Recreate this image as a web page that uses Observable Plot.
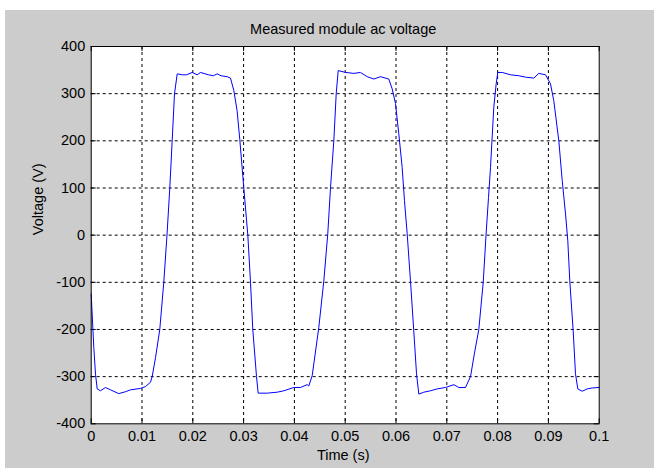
<!DOCTYPE html>
<html>
<head>
<meta charset="utf-8">
<script src="https://cdn.jsdelivr.net/npm/d3@7"></script>
<script src="https://cdn.jsdelivr.net/npm/@observablehq/plot@0.6"></script>
<style>
  html, body { margin: 0; padding: 0; background: #ffffff; }
  #wrap { padding-left: 5px; padding-top: 10px; width: 649px; height: 458px; }
  #wrap svg { display: block; background: #cccccc; }
</style>
</head>
<body>
<div id="wrap"></div>
<script>
const titleText = "Measured module ac voltage";
const xLabel = "Time (s)";
const yLabel = "Voltage (V)";

const xTicks = [0, 0.01, 0.02, 0.03, 0.04, 0.05, 0.06, 0.07, 0.08, 0.09, 0.1];
const xTickLabels = ["0", "0.01", "0.02", "0.03", "0.04", "0.05", "0.06", "0.07", "0.08", "0.09", "0.1"];
const yTicks = [-400, -300, -200, -100, 0, 100, 200, 300, 400];
const yTickLabels = ["-400", "-300", "-200", "-100", "0", "100", "200", "300", "400"];

const time = [
  0, 0.00051, 0.00085, 0.00118, 0.00183, 0.00281, 0.0038, 0.00543, 0.00675, 0.00774,
  0.0097, 0.01069, 0.01167, 0.012, 0.01266, 0.0135, 0.01429, 0.01492, 0.01547, 0.01594,
  0.0164, 0.01693, 0.01791, 0.01876, 0.01988, 0.02085, 0.02152, 0.02308, 0.02406, 0.0248,
  0.02555, 0.02677, 0.02742, 0.02807, 0.02872, 0.02925, 0.03004, 0.03083, 0.03136, 0.03181,
  0.03254, 0.03287, 0.03465, 0.03661, 0.03791, 0.03988, 0.0412, 0.04252, 0.04283, 0.0435,
  0.0448, 0.04579, 0.04657, 0.04711, 0.04776, 0.04823, 0.04862, 0.05006, 0.05169, 0.05301,
  0.05433, 0.05563, 0.05695, 0.05858, 0.05925, 0.0599, 0.06055, 0.06122, 0.06167, 0.0622,
  0.06285, 0.0635, 0.06404, 0.06449, 0.06547, 0.06679, 0.06811, 0.06974, 0.07138, 0.07236,
  0.07368, 0.07467, 0.07545, 0.0763, 0.07717, 0.07772, 0.07821, 0.0786, 0.07925, 0.07972,
  0.08004, 0.08091, 0.08254, 0.08417, 0.08549, 0.08713, 0.08811, 0.08943, 0.09041, 0.09106,
  0.09205, 0.09272, 0.09337, 0.09382, 0.09421, 0.09488, 0.09533, 0.09579, 0.09665, 0.09764,
  0.09862, 0.1
];
const voltage = [
  -125, -238, -295, -326, -330, -323, -328, -336, -332, -328,
  -325, -321, -312, -300, -260, -200, -100, 0, 100, 200,
  300, 342, 340, 340, 345, 340, 345, 340, 338, 342,
  338, 336, 333, 307, 264, 203, 100, 0, -100, -200,
  -300, -335, -335, -333, -330, -323, -323, -317, -320, -298,
  -196, -97, 3, 101, 200, 300, 349, 345, 343, 345,
  336, 331, 336, 331, 310, 279, 215, 143, 73, 3,
  -97, -203, -294, -337, -333, -330, -326, -323, -317, -323,
  -323, -300, -250, -200, -100, 0, 80, 143, 271, 321,
  345, 345, 340, 338, 335, 333, 343, 340, 321, 285,
  200, 116, 45, -12, -97, -203, -294, -326, -331, -326,
  -324, -323
];

const data = time.map((t, i) => ({t, v: voltage[i]}));

const W = 649, H = 458;
const mL = 85.7, mR = 55.3, mT = 36, mB = 44.7;
const innerW = W - mL - mR, innerH = H - mT - mB;
const tick = 5;
const font = "'Liberation Sans', Arial, Helvetica, sans-serif";

const chart = Plot.plot({
  width: W,
  height: H,
  marginLeft: mL,
  marginRight: mR,
  marginTop: mT,
  marginBottom: mB,
  style: {fontFamily: font, fontSize: "14.5px", color: "#000", background: "#cccccc"},
  x: {domain: [0, 0.1]},
  y: {domain: [-400, 400]},
  marks: [
    Plot.frame({fill: "white", stroke: "none"}),
    Plot.gridX(xTicks.slice(1, -1), {stroke: "#000", strokeOpacity: 1, strokeWidth: 1, strokeDasharray: "3,3"}),
    Plot.gridY(yTicks.slice(1, -1), {stroke: "#000", strokeOpacity: 1, strokeWidth: 1, strokeDasharray: "3,3"}),
    Plot.ruleX(xTicks, {x: d => d, insetTop: innerH - tick, stroke: "#000"}),
    Plot.ruleX(xTicks, {x: d => d, insetBottom: innerH - tick, stroke: "#000"}),
    Plot.ruleY(yTicks, {y: d => d, insetRight: innerW - tick, stroke: "#000"}),
    Plot.ruleY(yTicks, {y: d => d, insetLeft: innerW - tick, stroke: "#000"}),
    Plot.line(data, {x: "t", y: "v", stroke: "#0000ff", strokeWidth: 1}),
    Plot.frame({stroke: "#000", strokeWidth: 1}),
    Plot.axisX(xTicks, {tickSize: 0, tickPadding: 7, tickFormat: (d, i) => xTickLabels[i], label: null, fill: "#000"}),
    Plot.axisY(yTicks, {tickSize: 0, tickPadding: 6, tickFormat: (d, i) => yTickLabels[i], label: null, fill: "#000"}),
    Plot.text([titleText], {frameAnchor: "top", dy: -16.7, dx: -2, lineAnchor: "middle", fill: "#000", fontSize: 14.5}),
    Plot.text([xLabel], {frameAnchor: "bottom", dy: 31.7, dx: -2, lineAnchor: "middle", fill: "#000", fontSize: 14.5}),
    Plot.text([yLabel], {frameAnchor: "left", dx: -53.2, rotate: -90, lineAnchor: "middle", fill: "#000", fontSize: 14.5})
  ]
});

document.getElementById("wrap").appendChild(chart);
</script>
</body>
</html>
